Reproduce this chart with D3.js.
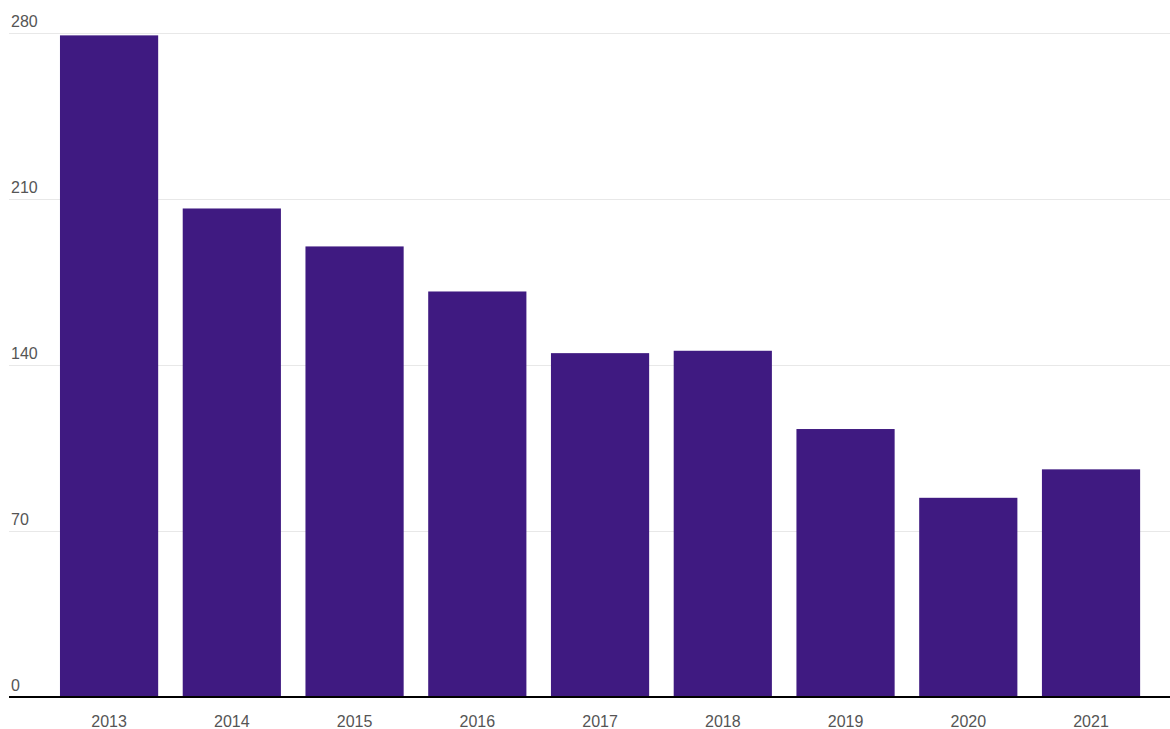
<!DOCTYPE html>
<html lang="en">
<head>
<meta charset="utf-8">
<title>Bar chart</title>
<script src="https://cdn.jsdelivr.net/npm/d3@7"></script>
<style>
  body { margin: 0; background: #fff; }
  text { font-family: "Liberation Sans", Arial, sans-serif; }
</style>
</head>
<body>
<svg id="chart" width="1170" height="729"></svg>
<script>
// Data
var years = ["2013", "2014", "2015", "2016", "2017", "2018", "2019", "2020", "2021"];
var values = [279, 206, 190, 171, 145, 146, 113, 84, 96];
var yTicks = [0, 70, 140, 210, 280];

var svg = d3.select("#chart");

var x = d3.scaleBand()
  .domain(years)
  .range([47.7, 1152.4])
  .paddingInner(0.2)
  .paddingOuter(0.1);

var y = d3.scaleLinear()
  .domain([0, 280])
  .range([697, 33]);

// Gridlines + labels
var grid = svg.append("g");
grid.selectAll("line")
  .data(yTicks.filter(function(d) { return d > 0; }))
  .enter()
  .append("line")
  .attr("x1", 9)
  .attr("x2", 1170)
  .attr("y1", function(d) { return y(d) + 0.5; })
  .attr("y2", function(d) { return y(d) + 0.5; })
  .attr("stroke", "#e8e8e8")
  .attr("stroke-width", 1);

grid.selectAll("text")
  .data(yTicks)
  .enter()
  .append("text")
  .attr("x", 11)
  .attr("y", function(d) { return y(d) - 6; })
  .attr("fill", "#555")
  .attr("font-size", 16)
  .text(function(d) { return d; });

// Bars
svg.append("g")
  .selectAll("rect")
  .data(values)
  .enter()
  .append("rect")
  .attr("x", function(d, i) { return x(years[i]); })
  .attr("y", function(d) { return y(d); })
  .attr("width", x.bandwidth())
  .attr("height", function(d) { return y(0) - y(d); })
  .attr("fill", "#3f1a81");

// Baseline
svg.append("line")
  .attr("x1", 9)
  .attr("x2", 1170)
  .attr("y1", y(0))
  .attr("y2", y(0))
  .attr("stroke", "#000")
  .attr("stroke-width", 2);

// X labels
svg.append("g")
  .selectAll("text")
  .data(years)
  .enter()
  .append("text")
  .attr("x", function(d) { return x(d) + x.bandwidth() / 2; })
  .attr("y", 727)
  .attr("text-anchor", "middle")
  .attr("fill", "#555")
  .attr("font-size", 16)
  .text(function(d) { return d; });
</script>
</body>
</html>
